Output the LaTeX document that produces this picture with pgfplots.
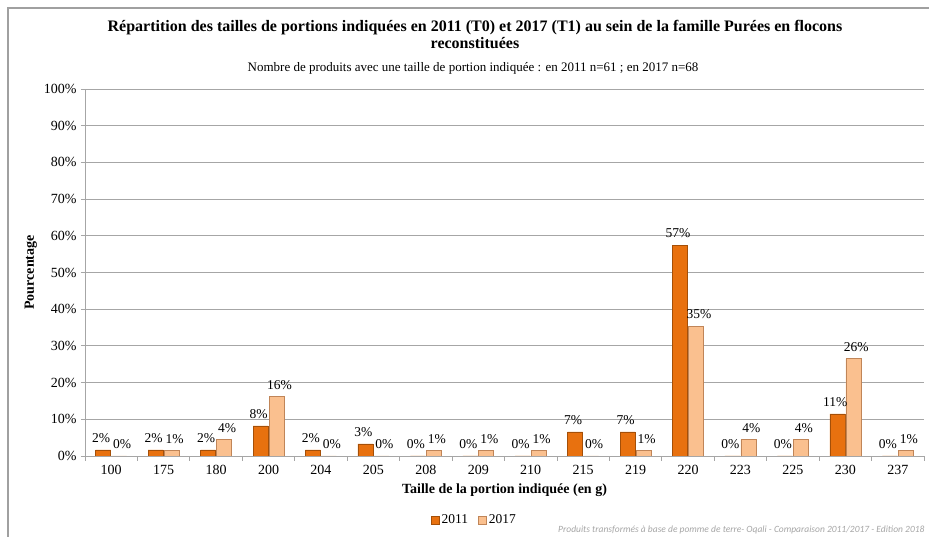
\documentclass[border=0pt]{standalone}
\usepackage{pgfplots}
\pgfplotsset{compat=1.18}
\usepackage{fontspec}
\setmainfont{Liberation Serif}
\newfontfamily\footfont{Carlito}
\definecolor{cA}{HTML}{E8710F}
\definecolor{cAd}{HTML}{A44F08}
\definecolor{cB}{HTML}{FAC08F}
\definecolor{cBd}{HTML}{C08558}
\definecolor{gridc}{HTML}{A6A6A6}
\definecolor{framec}{HTML}{A0A0A0}
\begin{document}
\begin{tikzpicture}
\useasboundingbox (0,0) rectangle (929pt,537pt);
\fill[white] (0,0) rectangle (929pt,537pt);
\draw[framec, line width=1.5pt] (8pt,0) -- (8pt,529pt) -- (929pt,529pt);
\node[font=\bfseries\fontsize{16}{17}\selectfont, align=center] at (475pt,503pt)
  {Répartition des tailles de portions indiquées en 2011 (T0) et 2017 (T1) au sein de la famille Purées en flocons\\reconstituées};
\node[font=\fontsize{13}{15}\selectfont] at (473pt,469pt)
  {Nombre de produits avec une taille de portion indiquée : en 2011 n=61 ; en 2017 n=68};
\begin{axis}[
  at={(85pt,81pt)}, anchor=south west,
  scale only axis, width=839pt, height=367pt,
  xmin=-0.5, xmax=15.5, ymin=0, ymax=100,
  ybar=1pt, bar width=15pt,
  axis x line*=bottom, axis y line*=left,
  axis line style={gridc, -},
  ymajorgrids, grid style={gridc, line width=0.8pt},
  ytick={0,10,...,100},
  yticklabels={0\%,10\%,20\%,30\%,40\%,50\%,60\%,70\%,80\%,90\%,100\%},
  xtick={0,...,15},
  xticklabels={100,175,180,200,204,205,208,209,210,215,219,220,223,225,230,237},
  x tick style={draw=none},
  y tick style={gridc, line width=0.8pt},
  tick align=outside, major tick length=4pt,
  extra x ticks={-0.5,0.5,...,15.5}, extra x tick labels={},
  extra x tick style={x tick style={draw=gridc, line width=0.8pt}, major tick length=5pt, grid=none},
  tick label style={font=\fontsize{14}{16}\selectfont},
  xticklabel style={yshift=-2pt},
  yticklabel style={xshift=-1pt},
  xlabel={\bfseries Taille de la portion indiquée (en g)},
  xlabel style={font=\fontsize{14}{16}\selectfont, yshift=7pt},
  ylabel={\bfseries Pourcentage},
  ylabel style={font=\fontsize{14}{16}\selectfont, yshift=0pt},
  nodes near coords,
  point meta=explicit symbolic,
  every node near coord/.append style={font=\fontsize{13.5}{15}\selectfont, black, inner sep=1pt, yshift=6pt},
  legend style={at={(0.464,-0.175)}, anchor=center, draw=none, fill=none,
    legend columns=2, font=\fontsize{13.5}{15}\selectfont,
    /tikz/every even column/.append style={column sep=8pt}},
  legend image code/.code={\path[#1] (0pt,-4pt) rectangle (8pt,4pt);},
]
\addplot[fill=cA, draw=cAd, line width=0.7pt,
  every node near coord/.append style={xshift=-2pt}] coordinates {
 (0,1.64) [2\%] (1,1.64) [2\%] (2,1.64) [2\%] (3,8.20) [8\%] (4,1.64) [2\%]
 (5,3.28) [3\%] (6,0) [0\%] (7,0) [0\%] (8,0) [0\%] (9,6.56) [7\%]
 (10,6.56) [7\%] (11,57.38) [57\%] (12,0) [0\%] (13,0) [0\%] (14,11.48) [11\%] (15,0) [0\%]
};
\addplot[fill=cB, draw=cBd, line width=0.7pt,
  every node near coord/.append style={xshift=3pt}] coordinates {
 (0,0) [0\%] (1,1.47) [1\%] (2,4.41) [4\%] (3,16.18) [16\%] (4,0) [0\%]
 (5,0) [0\%] (6,1.47) [1\%] (7,1.47) [1\%] (8,1.47) [1\%] (9,0) [0\%]
 (10,1.47) [1\%] (11,35.29) [35\%] (12,4.41) [4\%] (13,4.41) [4\%] (14,26.47) [26\%] (15,1.47) [1\%]
};
\legend{2011,2017}
\end{axis}
\node[font=\footfont\itshape\fontsize{9.5}{11}\selectfont, text=gray!70, anchor=east] at (928pt,7pt)
  {Produits transformés à base de pomme de terre- Oqali - Comparaison 2011/2017 - Edition 2018};
\end{tikzpicture}
\end{document}
